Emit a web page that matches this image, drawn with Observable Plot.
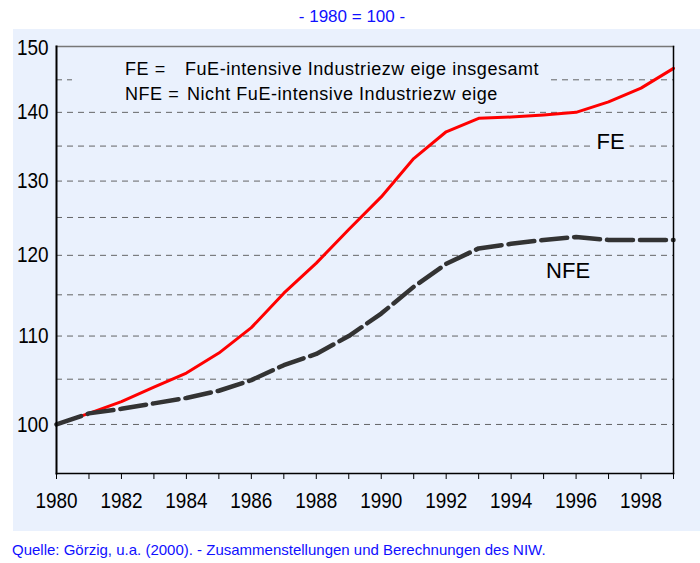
<!DOCTYPE html>
<html>
<head>
<meta charset="utf-8">
<script src="https://cdn.jsdelivr.net/npm/d3@7"></script>
<script src="https://cdn.jsdelivr.net/npm/@observablehq/plot@0.6"></script>
<style>
  html, body { margin: 0; padding: 0; background: #ffffff; }
  body { width: 700px; height: 563px; position: relative; overflow: hidden; font-family: "Liberation Sans", Arial, sans-serif; }
  #title { position: absolute; left: 0; top: 8px; width: 704px; text-align: center; color: #1010ff; font-size: 17px; line-height: 17px; white-space: pre; }
  #panel { position: absolute; left: 13px; top: 29px; width: 687px; height: 502px; background: #eaf1fd; }
  #legend { position: absolute; left: 72px; top: 56px; width: 476px; height: 46px; background: #eaf1fd; }
  #legend span { position: absolute; font-size: 18px; line-height: 18px; color: #000; white-space: pre; letter-spacing: 0.55px; }
  #caption { position: absolute; left: 12px; top: 542px; color: #1010ff; font-size: 15px; line-height: 15px; white-space: pre; }
</style>
</head>
<body>
<div id="title">- 1980 = 100 -</div>
<div id="panel"></div>
<div id="legend">
  <span style="left:53px; top:4px;">FE =</span>
  <span style="left:113px; top:4px;">FuE-intensive Industriezw eige insgesamt</span>
  <span style="left:53px; top:29px;">NFE =</span>
  <span style="left:115px; top:29px;">Nicht FuE-intensive Industriezw eige</span>
</div>
<div id="caption">Quelle: Görzig, u.a. (2000). - Zusammenstellungen und Berechnungen des NIW.</div>
<script>
const years = [1980, 1981, 1982, 1983, 1984, 1985, 1986, 1987, 1988, 1989, 1990, 1991, 1992, 1993, 1994, 1995, 1996, 1997, 1998, 1999];
const fe    = [100, 101.2, 102.5, 104.1, 105.7, 108.0, 111.0, 115.2, 119.0, 123.4, 127.8, 133.2, 137.1, 139.1, 139.3, 139.6, 140.0, 141.6, 143.7, 146.8];
const nfe   = [100, 101.2, 101.7, 102.3, 102.9, 103.7, 104.9, 106.6, 107.9, 110.0, 112.7, 116.0, 118.9, 120.9, 121.5, 122.0, 122.4, 122.0, 122.0, 122.0];
const yTicks = [100, 110, 120, 130, 140, 150];
const gridValues = [100, 105, 110, 115, 120, 125, 130, 135, 140, 145];
const seriesNames = ["FE", "NFE"];

const feData = years.map((y, i) => ({year: y, value: fe[i]}));
const nfeData = years.map((y, i) => ({year: y, value: nfe[i]}));
const feLabel = [{text: seriesNames[0], year: years[17], value: fe[17]}];
const nfeLabel = [{text: seriesNames[1], year: years[16], value: nfe[16]}];
const bg = "#eaf1fd";

const chart = Plot.plot({
  width: 687,
  height: 502,
  marginLeft: 43,
  marginRight: 27,
  marginTop: 17,
  marginBottom: 58,
  style: {background: "transparent", fontFamily: "'Liberation Sans', Arial, sans-serif", color: "#000", overflow: "visible"},
  x: {type: "linear", domain: [years[0], years[years.length - 1]]},
  y: {type: "log", domain: [94.85, 150.3]},
  marks: [
    Plot.ruleY(gridValues, {stroke: "#555", strokeOpacity: 0.9, strokeWidth: 1, strokeDasharray: "6,5"}),
    Plot.axisY({ticks: yTicks, tickSize: 0, tickPadding: 8, tickFormat: d => String(d), fontSize: 22, label: null}),
    Plot.axisX({ticks: years, tickSize: 6, tickPadding: 13, tickFormat: d => (d % 2 === 0 ? String(d) : ""), fontSize: 22, label: null, stroke: "#000"}),
    Plot.line(feData, {x: "year", y: "value", stroke: "#ff0000", strokeWidth: 3}),
    Plot.line(nfeData, {x: "year", y: "value", stroke: "#333333", strokeWidth: 4.5, strokeDasharray: "26,7"}),
    Plot.text(feLabel, {x: "year", y: "value", text: "text", dx: 2, dy: 40, fontSize: 22, fill: "#000", stroke: bg, strokeWidth: 12, paintOrder: "stroke"}),
    Plot.text(nfeLabel, {x: "year", y: "value", text: "text", dx: -8, dy: 34, fontSize: 22, fill: "#000"}),
    Plot.frame({anchor: "top", stroke: "#777", strokeWidth: 1.5}),
    Plot.frame({anchor: "right", stroke: "#000", strokeWidth: 1.5}),
    Plot.frame({anchor: "bottom", stroke: "#000", strokeWidth: 1.5}),
    Plot.frame({anchor: "left", stroke: "#000", strokeWidth: 2})
  ]
});
document.getElementById("panel").appendChild(chart);
// condense the axis tick labels like the narrow face of the original
chart.querySelectorAll('g[aria-label="y-axis tick label"] text, g[aria-label="x-axis tick label"] text').forEach(t => {
  if (!t.textContent) return;
  const w = t.getComputedTextLength();
  t.setAttribute("textLength", (w * 0.86).toFixed(1));
  t.setAttribute("lengthAdjust", "spacingAndGlyphs");
});
</script>
</body>
</html>
